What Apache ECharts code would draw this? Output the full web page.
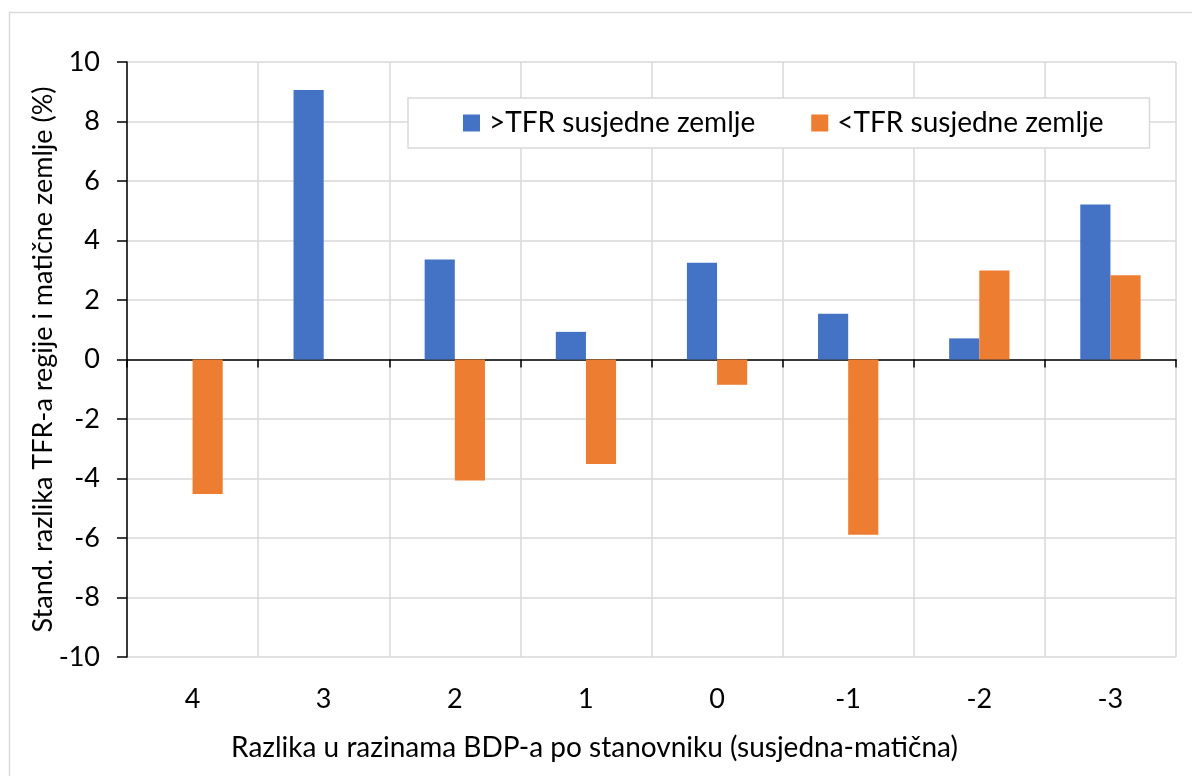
<!DOCTYPE html>
<html>
<head>
<meta charset="utf-8">
<script src="https://cdn.jsdelivr.net/npm/echarts@6/dist/echarts.min.js"></script>
<style>
  html, body { margin: 0; padding: 0; background: #ffffff; }
  #chart { width: 1192px; height: 776px; }
</style>
</head>
<body>
<div id="chart"></div>
<script>
// GDP-per-capita level difference categories (neighbour minus home country)
const categories = ['4', '3', '2', '1', '0', '-1', '-2', '-3'];
// Standardised TFR difference (%) for regions bordering a higher-TFR neighbour
const higherTfr = [null, 9.06, 3.36, 0.93, 3.25, 1.54, 0.71, 5.21];
// Standardised TFR difference (%) for regions bordering a lower-TFR neighbour
const lowerTfr = [-4.52, null, -4.07, -3.51, -0.85, -5.89, 2.99, 2.83];
const seriesNames = ['>TFR susjedne zemlje', '<TFR susjedne zemlje'];
const xTitle = 'Razlika u razinama BDP-a po stanovniku (susjedna-matična)';
const yTitle = 'Stand. razlika TFR-a regije i matične zemlje (%)';

const FONT = 'Lato';
const chart = echarts.init(document.getElementById('chart'), null, { renderer: 'canvas' });

chart.setOption({
  animation: false,
  backgroundColor: '#ffffff',
  textStyle: { fontFamily: FONT, color: '#000000' },
  graphic: [{
    type: 'rect',
    left: 7, top: 10,
    shape: { width: 1200, height: 800 },
    style: { fill: 'none', stroke: '#d9d9d9', lineWidth: 1.5 },
    silent: true, z: -1
  }],
  grid: { left: 127, right: 16, top: 62, bottom: 119, containLabel: false },
  legend: {
    data: seriesNames,
    left: 408, top: 98,
    itemWidth: 17, itemHeight: 17, itemGap: 56,
    icon: 'rect',
    padding: [11, 46, 11, 55],
    borderColor: '#d9d9d9', borderWidth: 1.5,
    backgroundColor: '#ffffff',
    textStyle: { fontFamily: FONT, fontSize: 28, color: '#000000', padding: [0, 0, 0, 4] }
  },
  xAxis: [{
    // axis line on zero with boundary ticks
    type: 'category',
    data: categories,
    axisLine: { onZero: true, lineStyle: { color: '#000000', width: 1.5 } },
    axisTick: { show: true, alignWithLabel: false, length: 8, lineStyle: { color: '#000000', width: 1.5 } },
    axisLabel: { show: false },
    splitLine: { show: false }
  }, {
    // category labels and title along the bottom edge
    type: 'category',
    data: categories,
    position: 'bottom',
    axisLine: { show: false, onZero: false },
    axisTick: { show: false },
    axisLabel: { show: true, margin: 29, fontFamily: FONT, fontSize: 27, color: '#000000' },
    splitLine: { show: true, lineStyle: { color: '#d9d9d9', width: 1.5 } },
    name: xTitle,
    nameLocation: 'middle',
    nameGap: 77,
    nameMoveOverlap: false,
    // title is centred on the whole chart box rather than the plot
    nameTextStyle: { fontFamily: FONT, fontSize: 28, color: '#000000', padding: [0, 114, 0, 0] }
  }],
  yAxis: {
    type: 'value',
    min: -10, max: 10, interval: 2,
    axisLine: { show: true, onZero: false, lineStyle: { color: '#000000', width: 1.5 } },
    axisTick: { show: true, length: 10, lineStyle: { color: '#000000', width: 1.5 } },
    axisLabel: { margin: 27, fontFamily: FONT, fontSize: 27, color: '#000000' },
    splitLine: { show: true, lineStyle: { color: '#d9d9d9', width: 1.5 } },
    name: yTitle,
    nameLocation: 'middle',
    nameGap: 70,
    nameMoveOverlap: false,
    nameTextStyle: { fontFamily: FONT, fontSize: 27, color: '#000000' }
  },
  series: [{
    name: seriesNames[0],
    type: 'bar',
    xAxisIndex: 0,
    data: higherTfr,
    barGap: '0%',
    barCategoryGap: '54%',
    itemStyle: { color: '#4472c4' }
  }, {
    name: seriesNames[1],
    type: 'bar',
    xAxisIndex: 0,
    data: lowerTfr,
    barGap: '0%',
    barCategoryGap: '54%',
    itemStyle: { color: '#ed7d31' }
  }]
});
</script>
</body>
</html>
